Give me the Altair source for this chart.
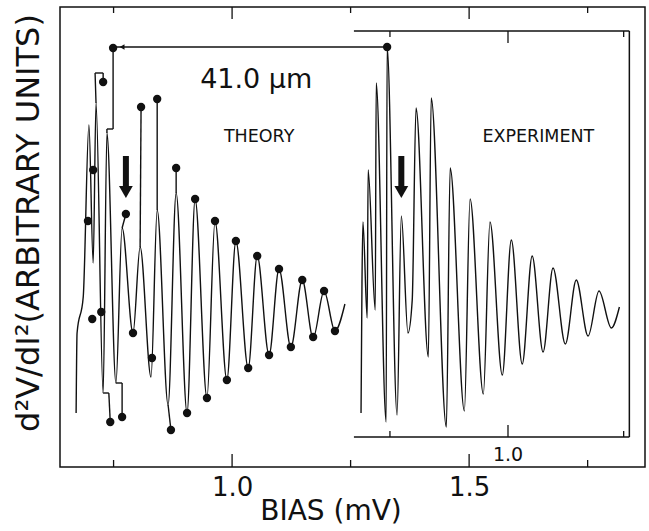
import altair as alt
import pandas as pd

# ---- data (bias in mV, signal in arbitrary units) ----
theory_x = [0.671, 0.673, 0.686, 0.698, 0.707, 0.713, 0.728, 0.736, 0.755, 0.768,
            0.791, 0.806, 0.829, 0.842, 0.865, 0.882, 0.905, 0.922, 0.947, 0.964,
            0.989, 1.008, 1.034, 1.053, 1.078, 1.099, 1.124, 1.148, 1.171, 1.194,
            1.217, 1.238]
theory_y = [54, 134, 170, 342, 204, 364, 74, 334, 84, 239,
            134, 220, 90, 257, 62, 274, 54, 268, 69, 246,
            87, 226, 99, 211, 112, 198, 120, 187, 129, 176,
            136, 163]

exp_x = [1.272, 1.274, 1.276, 1.285, 1.287, 1.302, 1.304, 1.325, 1.327, 1.348,
         1.357, 1.371, 1.380, 1.388, 1.414, 1.420, 1.452, 1.460, 1.490, 1.502,
         1.530, 1.544, 1.570, 1.589, 1.612, 1.633, 1.656, 1.677, 1.703, 1.726,
         1.751, 1.774, 1.800, 1.817]
exp_y = [54, 184, 245, 149, 297, 157, 384, 45, 420, 52,
         251, 134, 167, 359, 110, 369, 40, 299, 56, 268,
         73, 245, 92, 227, 103, 211, 115, 199, 123, 187,
         131, 176, 139, 160]

dot_x = [0.749, 0.728, 0.707, 0.696, 0.776, 0.808, 0.842, 0.882, 0.922, 0.964,
         1.008, 1.053, 1.099, 1.148, 1.194,
         0.705, 0.724, 0.743, 0.768, 0.791, 0.831, 0.871, 0.905, 0.947, 0.989,
         1.034, 1.078, 1.124, 1.171, 1.217,
         1.327]
dot_y = [419, 385, 297, 246, 253, 360, 368, 299, 268, 246,
         226, 211, 198, 187, 176,
         148, 155, 45, 50, 134, 109, 37, 54, 69, 87,
         99, 112, 120, 130, 136,
         420]

seg_x1 = [0.749, 0.749, 0.736, 0.713, 0.711, 0.728, 0.776, 0.808, 0.842, 0.882,
          0.728, 0.740, 0.755, 0.768, 0.871, 1.327]
seg_y1 = [419, 338, 338, 364, 394, 394, 253, 360, 368, 299,
          74, 74, 84, 84, 37, 420]
seg_x2 = [0.749, 0.736, 0.736, 0.711, 0.728, 0.728, 0.768, 0.806, 0.842, 0.882,
          0.740, 0.743, 0.768, 0.768, 0.865, 0.749]
seg_y2 = [338, 338, 334, 394, 394, 385, 239, 220, 257, 274,
          74, 45, 84, 50, 62, 420]

outer_major = [1.0, 1.5]
outer_minor = [0.75, 1.25, 1.75]
inner_major = [1.582]
inner_minor = [1.333, 1.826]
inner_frame_x = [1.257, 1.838]
inner_frame_top = 436
inner_frame_bottom = 30

arrow_x = [0.776, 1.357]

labels = pd.DataFrame({
    "x": [1.051, 1.057, 1.646, 1.582],
    "y": [387, 330, 330, 12],
    "t": ["41.0 μm", "THEORY", "EXPERIMENT", "1.0"],
    "s": [27, 17.5, 17.5, 19],
})

xs = alt.Scale(domain=[0.637, 1.871], nice=False, zero=False)
ys = alt.Scale(domain=[0, 460], nice=False, zero=False)
INK = "#111111"
FONT = "DejaVu Sans"

theory = pd.DataFrame({"x": theory_x, "y": theory_y})
exper = pd.DataFrame({"x": exp_x, "y": exp_y})
dots = pd.DataFrame({"x": dot_x, "y": dot_y})
segs = pd.DataFrame({"x": seg_x1, "y": seg_y1, "x2": seg_x2, "y2": seg_y2})

xaxis = alt.Axis(values=outer_major, format=".1f", labelFontSize=26, labelFont=FONT,
                 labelColor=INK, ticks=False, domain=False, grid=False, title=None,
                 labelPadding=7, labelFontWeight="normal")


def X(field="x"):
    return alt.X(f"{field}:Q", scale=xs, axis=xaxis)


def Y(field="y"):
    return alt.Y(f"{field}:Q", scale=ys, axis=None)


l_theory = alt.Chart(theory).mark_line(color=INK, strokeWidth=1.4, interpolate="monotone").encode(
    x=X(), y=Y())
l_exp = alt.Chart(exper).mark_line(color=INK, strokeWidth=1.4, interpolate="monotone").encode(
    x=X(), y=Y())
l_segs = alt.Chart(segs).mark_rule(color=INK, strokeWidth=1.4).encode(
    x=X(), x2="x2:Q", y=Y(), y2="y2:Q")
l_dots = alt.Chart(dots).mark_circle(color=INK, size=70, opacity=1).encode(x=X(), y=Y())
l_arrowhead = alt.Chart(pd.DataFrame({"x": [0.768], "y": [420]})).mark_point(
    shape="triangle-left", filled=True, color=INK, size=30, opacity=1).encode(x=X(), y=Y())

arrows = pd.DataFrame({"x": arrow_x})
l_shaft = alt.Chart(arrows).mark_rule(color=INK, strokeWidth=6).encode(
    x=X(), y=alt.value(149), y2=alt.value(180))
l_head = alt.Chart(arrows).mark_point(shape="triangle-down", filled=True, color=INK,
                                      size=190, opacity=1).encode(x=X(), y=alt.value(185))

# outer frame ticks
om = pd.DataFrame({"x": outer_major})
on = pd.DataFrame({"x": outer_minor})
tick_layers = []
for df, L in [(om, 13), (on, 7)]:
    tick_layers.append(alt.Chart(df).mark_rule(color=INK, strokeWidth=1.3).encode(
        x=X(), y=alt.value(460), y2=alt.value(460 - L)))
    tick_layers.append(alt.Chart(df).mark_rule(color=INK, strokeWidth=1.3).encode(
        x=X(), y=alt.value(0), y2=alt.value(L - 1)))

# inner (experiment) frame
frame = pd.DataFrame({
    "x": [inner_frame_x[0], inner_frame_x[0], inner_frame_x[1]],
    "x2": [inner_frame_x[1], inner_frame_x[1], inner_frame_x[1]],
    "y": [inner_frame_top, inner_frame_bottom, inner_frame_top],
    "y2": [inner_frame_top, inner_frame_bottom, inner_frame_bottom],
})
l_frame = alt.Chart(frame).mark_rule(color=INK, strokeWidth=1.5).encode(
    x=X(), x2="x2:Q", y=Y(), y2="y2:Q")
for vals, L in [(inner_major, 12), (inner_minor, 6)]:
    df = pd.DataFrame({"x": vals, "yt": [inner_frame_top] * len(vals),
                       "yt2": [inner_frame_top - L] * len(vals),
                       "yb": [inner_frame_bottom] * len(vals),
                       "yb2": [inner_frame_bottom + L] * len(vals)})
    tick_layers.append(alt.Chart(df).mark_rule(color=INK, strokeWidth=1.3).encode(
        x=X(), y=Y("yt"), y2="yt2:Q"))
    tick_layers.append(alt.Chart(df).mark_rule(color=INK, strokeWidth=1.3).encode(
        x=X(), y=Y("yb"), y2="yb2:Q"))

l_labels = alt.Chart(labels).mark_text(
    color=INK, font=FONT, align="center", baseline="middle").encode(
    x=X(), y=Y(), text="t:N", size=alt.Size("s:Q", scale=None, legend=None))

l_ytitle = alt.Chart(pd.DataFrame({"t": ["d²V/dI²(ARBITRARY UNITS)"]})).mark_text(
    angle=270, fontSize=32, font=FONT, color=INK, align="center", baseline="middle").encode(
    x=alt.value(-31), y=alt.value(216), text="t:N")
l_xtitle = alt.Chart(pd.DataFrame({"t": ["BIAS (mV)"]})).mark_text(
    fontSize=28, font=FONT, color=INK, align="center", baseline="middle").encode(
    x=alt.value(271), y=alt.value(505), text="t:N")

chart = alt.layer(
    l_theory, l_exp, l_segs, l_dots, l_arrowhead, l_shaft, l_head, l_frame,
    *tick_layers, l_labels, l_ytitle, l_xtitle
).properties(
    width=585, height=460,
    autosize=alt.AutoSizeParams(type="none"),
    padding={"left": 60, "top": 7, "right": 4, "bottom": 64},
    background="white",
).configure_view(stroke=INK, strokeWidth=1.5)

chart.save("out.html", embed_options={"renderer": "svg", "actions": False})
